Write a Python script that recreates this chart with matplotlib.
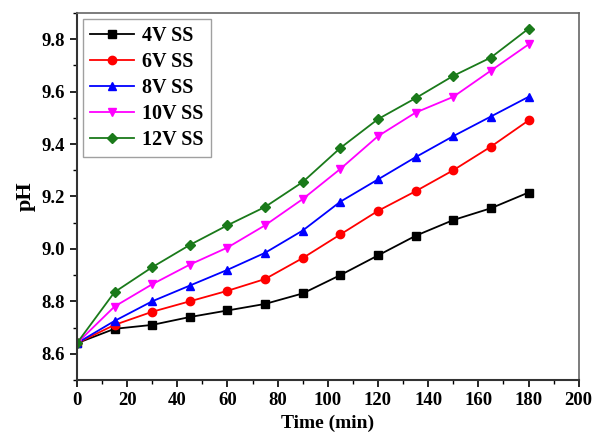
import matplotlib
matplotlib.use('Agg')
import matplotlib.pyplot as plt
from matplotlib.ticker import MultipleLocator

plt.rcParams['font.family'] = ['Liberation Serif', 'DejaVu Serif']
plt.rcParams['font.weight'] = 'bold'

# data
time_min = [0, 15, 30, 45, 60, 75, 90, 105, 120, 135, 150, 165, 180]
ph_4v = [8.64, 8.695, 8.71, 8.74, 8.765, 8.79, 8.83, 8.90, 8.975, 9.05, 9.11, 9.155, 9.215]
ph_6v = [8.64, 8.71, 8.76, 8.80, 8.84, 8.885, 8.965, 9.055, 9.145, 9.22, 9.30, 9.39, 9.49]
ph_8v = [8.64, 8.725, 8.80, 8.86, 8.92, 8.985, 9.07, 9.18, 9.265, 9.35, 9.43, 9.505, 9.58]
ph_10v = [8.64, 8.78, 8.865, 8.94, 9.005, 9.09, 9.19, 9.305, 9.43, 9.52, 9.58, 9.68, 9.78]
ph_12v = [8.64, 8.835, 8.93, 9.015, 9.09, 9.16, 9.255, 9.385, 9.495, 9.575, 9.66, 9.73, 9.84]

series = [
    ('4V SS', ph_4v, 'black', 's'),
    ('6V SS', ph_6v, 'red', 'o'),
    ('8V SS', ph_8v, 'blue', '^'),
    ('10V SS', ph_10v, 'magenta', 'v'),
    ('12V SS', ph_12v, '#1a7a1a', 'D'),
]

fig = plt.figure(figsize=(5.96, 4.47), dpi=100)
ax = fig.add_axes([0.129, 0.150, 0.842, 0.821])

for label, vals, col, mk in series:
    ax.plot(time_min, vals, color=col, marker=mk, markersize=6 if mk != 'D' else 5,
            linewidth=1.3, label=label)

ax.set_xlim(0, 200)
ax.set_ylim(8.5, 9.9)
ax.xaxis.set_major_locator(MultipleLocator(20))
ax.xaxis.set_minor_locator(MultipleLocator(10))
ax.yaxis.set_major_locator(MultipleLocator(0.2))
ax.yaxis.set_minor_locator(MultipleLocator(0.1))
ax.tick_params(which='major', direction='out', length=5, width=1.2, labelsize=13.5)
ax.tick_params(which='minor', direction='out', length=3, width=1.0)
ax.tick_params(top=False, right=False)
ax.yaxis.set_major_formatter(plt.FuncFormatter(lambda v, p: f'{v:.1f}'))

for s in ['left', 'bottom']:
    ax.spines[s].set_linewidth(1.5)
    ax.spines[s].set_color('#333333')
for s in ['top', 'right']:
    ax.spines[s].set_linewidth(1.2)
    ax.spines[s].set_color('#666666')

ax.set_xlabel('Time (min)', fontsize=14, fontweight='bold')
ax.set_ylabel('pH', fontsize=16, fontweight='bold')

leg = ax.legend(loc='upper left', fontsize=14.5, fancybox=False, frameon=True,
                edgecolor='#888888', handlelength=2.2, borderpad=0.35,
                labelspacing=0.3, handletextpad=0.4, borderaxespad=0.3)
leg.get_frame().set_linewidth(1.0)

fig.savefig('out.png', dpi=100)
